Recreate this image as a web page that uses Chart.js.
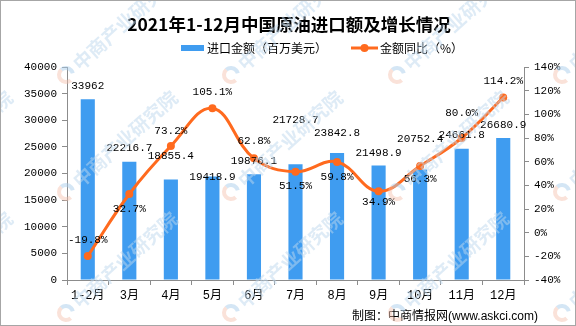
<!DOCTYPE html>
<html>
<head>
<meta charset="utf-8">
<script src="https://cdn.jsdelivr.net/npm/chart.js@4/dist/chart.umd.min.js"></script>
<style>
  html, body { margin: 0; padding: 0; background: #fff; }
  #wrap { width: 576px; height: 326px; }
</style>
</head>
<body>
<div id="wrap"><canvas id="chart" width="576" height="326"></canvas></div>
<script>
// monthly crude oil imports, 2021
const months = ["1-2月", "3月", "4月", "5月", "6月", "7月", "8月", "9月", "10月", "11月", "12月"];
const importValue = [33962, 22216.7, 18855.4, 19418.9, 19876.1, 21728.7, 23842.8, 21498.9, 20752.4, 24661.8, 26680.9];
const growthRate = [-19.8, 32.7, 73.2, 105.1, 62.8, 51.5, 59.8, 34.9, 56.3, 80.0, 114.2];

// label nudges (px): bar labels lifted above the bar top, rate labels shifted off the point
const barLabelLift = [13, 14, 24, 0, 13, 44, 20, 12, 30, 14, 13];
const rateLabelShift = [-16, 15, -15, -16, -17, 14, 15, 11, 13, -25, -16];

const BLUE = "#3f9cf0";
const ORANGE = "#ff6a1e";
const AXIS = "#8c8c8c";
const MONO = "'Liberation Mono', 'Noto Sans CJK SC', monospace";
const CJK = "'Noto Sans CJK SC', sans-serif";

function drawWatermark(ctx, x, y) {
  ctx.save();
  ctx.translate(x, y);
  ctx.rotate(-42 * Math.PI / 180);
  // little round logo
  ctx.lineWidth = 4;
  ctx.strokeStyle = "rgba(245,190,170,0.45)";
  ctx.beginPath();
  ctx.arc(0, 0, 7, Math.PI * 0.5, Math.PI * 1.5);
  ctx.stroke();
  ctx.strokeStyle = "rgba(170,205,235,0.5)";
  ctx.beginPath();
  ctx.arc(0, 0, 7, -Math.PI * 0.5, Math.PI * 0.15);
  ctx.stroke();
  ctx.font = "bold 19px " + CJK;
  ctx.fillStyle = "rgba(190,215,238,0.5)";
  ctx.textBaseline = "middle";
  ctx.textAlign = "left";
  ctx.fillText("中商产业研究院", 13, 0);
  ctx.restore();
}

const decorPlugin = {
  id: "decor",
  afterDatasetsDraw(chart) {
    const ctx = chart.ctx;
    ctx.save();
    ctx.font = "11px " + MONO;
    ctx.fillStyle = "#000";
    ctx.textAlign = "center";
    ctx.textBaseline = "middle";
    const bars = chart.getDatasetMeta(1);
    bars.data.forEach((el, i) => {
      ctx.fillText(String(importValue[i]), el.x, el.y - barLabelLift[i]);
    });
    const pts = chart.getDatasetMeta(0);
    pts.data.forEach((el, i) => {
      ctx.fillText(growthRate[i].toFixed(1) + "%", el.x, el.y + rateLabelShift[i]);
    });
    ctx.restore();
  },
  afterDraw(chart) {
    const ctx = chart.ctx;
    ctx.save();
    // title
    ctx.fillStyle = "#000";
    ctx.textAlign = "center";
    ctx.textBaseline = "middle";
    ctx.font = "bold 17.5px " + CJK;
    ctx.fillText("2021年1-12月中国原油进口额及增长情况", 289, 24);

    // legend
    ctx.font = "12px " + CJK;
    ctx.textAlign = "left";
    ctx.fillStyle = BLUE;
    ctx.fillRect(181, 45, 23, 6);
    ctx.fillStyle = "#000";
    ctx.fillText("进口金额（百万美元）", 207, 48);
    ctx.strokeStyle = ORANGE;
    ctx.lineWidth = 3;
    ctx.beginPath();
    ctx.moveTo(351, 48);
    ctx.lineTo(378, 48);
    ctx.stroke();
    ctx.fillStyle = ORANGE;
    ctx.beginPath();
    ctx.arc(364.5, 48, 4, 0, Math.PI * 2);
    ctx.fill();
    ctx.fillStyle = "#000";
    ctx.fillText("金额同比（%）", 380, 48);

    // source note
    ctx.textAlign = "right";
    ctx.font = "12px 'Liberation Sans', 'Noto Sans CJK SC', sans-serif";
    ctx.fillText("制图：中商情报网(www.askci.com)", 538, 317);

    // watermark grid
    const cols = [-99, 66, 231, 397, 562];
    const rows = [75, 192, 313];
    cols.forEach(x => rows.forEach(y => drawWatermark(ctx, x, y)));

    // outer frame
    ctx.strokeStyle = "#a6a6a6";
    ctx.lineWidth = 1;
    ctx.strokeRect(0.5, 0.5, 575, 325);
    ctx.restore();
  }
};

new Chart(document.getElementById("chart"), {
  data: {
    labels: months,
    datasets: [
      {
        type: "line",
        label: "金额同比（%）",
        data: growthRate,
        yAxisID: "y2",
        borderColor: ORANGE,
        backgroundColor: ORANGE,
        borderWidth: 3,
        tension: 0.4,
        pointRadius: 4,
        pointBorderWidth: 0,
        pointBackgroundColor: ORANGE,
        order: 0
      },
      {
        type: "bar",
        label: "进口金额（百万美元）",
        data: importValue,
        yAxisID: "y",
        backgroundColor: BLUE,
        barPercentage: 0.34,
        categoryPercentage: 1.0,
        order: 1
      }
    ]
  },
  options: {
    responsive: false,
    animation: false,
    devicePixelRatio: 1,
    layout: { padding: { top: 67, left: 0, right: 0, bottom: 0 } },
    plugins: {
      legend: { display: false },
      title: { display: false },
      tooltip: { enabled: false }
    },
    scales: {
      x: {
        offset: true,
        afterFit: s => { s.height = 46; },
        grid: { display: true, drawOnChartArea: false, offset: true, tickLength: 5, color: AXIS },
        border: { color: AXIS },
        ticks: { color: "#000", font: { size: 12, family: MONO }, padding: 4, maxRotation: 0, autoSkip: false }
      },
      y: {
        position: "left",
        min: 0,
        max: 40000,
        afterFit: s => { s.width = 67; },
        grid: { drawOnChartArea: false, tickLength: 5, color: AXIS },
        border: { color: AXIS },
        ticks: { stepSize: 5000, color: "#000", font: { size: 11, family: MONO }, padding: 5, callback: v => String(v) }
      },
      y2: {
        position: "right",
        min: -40,
        max: 140,
        afterFit: s => { s.width = 52; },
        grid: { drawOnChartArea: false, tickLength: 5, color: AXIS },
        border: { color: AXIS },
        ticks: { stepSize: 20, color: "#000", font: { size: 11, family: MONO }, padding: 5, callback: v => v + "%" }
      }
    }
  },
  plugins: [decorPlugin]
});
</script>
</body>
</html>
